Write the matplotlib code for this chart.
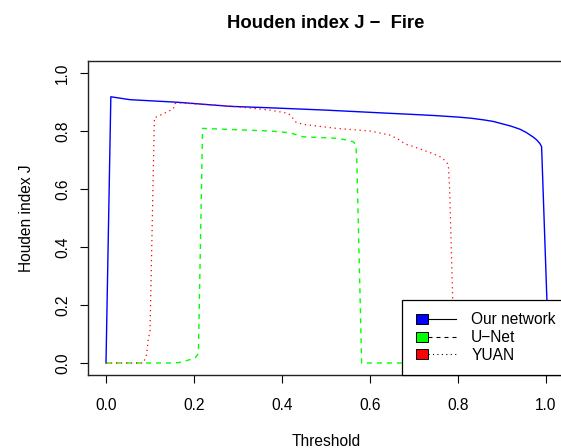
import numpy as np
import matplotlib
matplotlib.use("Agg")
import matplotlib.pyplot as plt
from matplotlib.legend_handler import HandlerBase
from matplotlib.patches import Rectangle
from matplotlib.lines import Line2D

# ---------------- data ----------------
title = "Houden index J \u2212  Fire"
x_label = "Threshold"
y_label = "Houden index J"
series_names = ["Our network", "U\u2212Net", "YUAN"]
series_colors = ["#0000FF", "#00FF00", "#FF0000"]

ours_x = [0.0, 0.011, 0.0545, 0.164, 0.282, 0.373, 0.5, 0.645, 0.70, 0.75, 0.80,
          0.83, 0.86, 0.88, 0.90, 0.92, 0.941, 0.955, 0.964, 0.972, 0.979, 0.986,
          0.990, 1.007]
ours_y = [0.0, 0.918, 0.908, 0.899, 0.885, 0.880, 0.872, 0.861, 0.857, 0.853, 0.848,
          0.844, 0.838, 0.833, 0.825, 0.817, 0.806, 0.795, 0.786, 0.778, 0.769, 0.757,
          0.746, 0.0]

unet_x = [0.0, 0.153, 0.168, 0.187, 0.202, 0.210, 0.2195, 0.373, 0.418, 0.448,
          0.524, 0.547, 0.562, 0.568, 0.570, 0.581, 1.0]
unet_y = [0.0, 0.0, 0.002, 0.010, 0.016, 0.033, 0.809, 0.800, 0.794, 0.780,
          0.775, 0.769, 0.763, 0.752, 0.700, 0.0, 0.0]

yuan_x = [0.0, 0.085, 0.092, 0.096, 0.100, 0.104, 0.108, 0.110, 0.114, 0.153,
          0.157, 0.164, 0.282, 0.373, 0.414, 0.422, 0.432, 0.448, 0.524, 0.600,
          0.645, 0.665, 0.680, 0.699, 0.736, 0.763, 0.778, 0.781, 0.788, 0.792, 1.0]
yuan_y = [0.0, 0.0, 0.028, 0.080, 0.110, 0.400, 0.700, 0.846, 0.848, 0.876,
          0.895, 0.897, 0.886, 0.872, 0.861, 0.849, 0.830, 0.823, 0.809, 0.800,
          0.786, 0.771, 0.755, 0.746, 0.726, 0.709, 0.685, 0.600, 0.220, 0.0, 0.0]

ticks = [0.0, 0.2, 0.4, 0.6, 0.8, 1.0]
tick_labels = ["0.0", "0.2", "0.4", "0.6", "0.8", "1.0"]

# ---------------- styling ----------------
plt.rcParams['font.family'] = ['Liberation Sans', 'DejaVu Sans']
FS = 11.2
W, H = 561, 448
fig = plt.figure(figsize=(W / 100, H / 100), dpi=100)
L, R, T, B = 88.4, 563.6, 61.4, 374.6
ax = fig.add_axes([L / W, (H - B) / H, (R - L) / W, (B - T) / H])
ax.set_xlim(-0.04, 1.04)
ax.set_ylim(-0.04, 1.04)

styles = [dict(linestyle='-', lw=1.0),
          dict(linestyle=(0, (3.6, 3.6)), lw=1.0),
          dict(linestyle=(0, (1.0, 3.0)), lw=0.9)]
lines = []
for (xs, ys), name, col, st in zip([(ours_x, ours_y), (unet_x, unet_y), (yuan_x, yuan_y)],
                                   series_names, series_colors, styles):
    ln, = ax.plot(xs, ys, color=col, label=name, **st)
    lines.append(ln)

ax.set_xticks(ticks)
ax.set_xticklabels(tick_labels)
ax.set_yticks(ticks)
ax.set_yticklabels(tick_labels, rotation=90, va='center')
ax.tick_params(axis='both', direction='out', length=5.8, width=0.8, labelsize=FS,
               color='black')
ax.tick_params(axis='x', pad=11)
ax.tick_params(axis='y', pad=7.5)
for sp in ax.spines.values():
    sp.set_linewidth(1.0)
    sp.set_color('#222222')

ax.set_xlabel(x_label, fontsize=FS, va='baseline')
ax.xaxis.set_label_coords(0.5, (H - 446.0 - (H - B)) / (B - T))
ax.set_ylabel(y_label, fontsize=FS, va='center')
ax.yaxis.set_label_coords((27 - L) / (R - L), 0.5)

fig.text(((L + R) / 2) / W, 1 - 23.5 / H, title, ha='center', va='center',
         fontsize=13.3, fontweight='bold')

# ---------------- legend (R style: fill box + line) ----------------
PX = 0.72  # points per pixel


class FillLineHandler(HandlerBase):
    def create_artists(self, legend, orig_handle, xdescent, ydescent,
                       width, height, fontsize, trans):
        x0 = -xdescent + 2.0 * PX
        bw, bh = 12 * PX, 10 * PX
        yc = -ydescent + height / 2
        rect = Rectangle((x0, yc - bh / 2), bw, bh, facecolor=orig_handle.get_color(),
                         edgecolor='black', lw=0.7, transform=trans)
        ln = Line2D([x0 + bw, -xdescent + width], [yc, yc], color='black', lw=0.8,
                    linestyle=orig_handle.get_linestyle(), transform=trans)
        if orig_handle.get_linestyle() != '-':
            ln.set_dashes(orig_handle._unscaled_dash_pattern[1])
        return [ln, rect]


leg = ax.legend(handles=lines, labels=series_names, loc='lower left',
                bbox_to_anchor=((402 - L) / (R - L), 0.0), borderaxespad=0,
                fontsize=FS, handler_map={Line2D: FillLineHandler()},
                handlelength=2.71, handletextpad=0.97, borderpad=0.77,
                labelspacing=0.17, fancybox=False, framealpha=1, edgecolor='black')
leg.get_frame().set_linewidth(0.9)

fig.savefig("out.png", dpi=100)
